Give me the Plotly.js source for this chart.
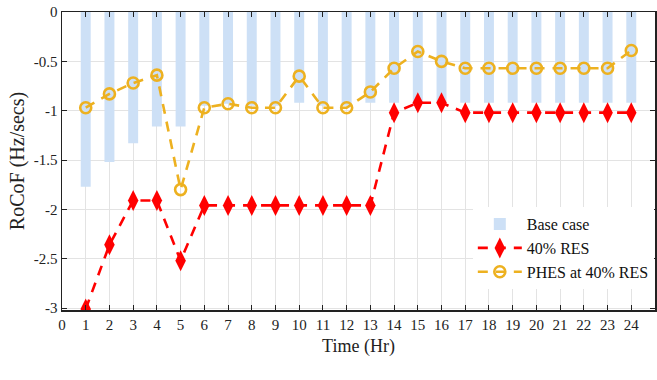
<!DOCTYPE html>
<html>
<head>
<meta charset="utf-8">
<script src="https://cdn.plot.ly/plotly-3.0.1.min.js"></script>
<style>html,body{margin:0;padding:0;background:#fff}#chart{width:657px;height:380px}</style>
</head>
<body>
<div id="chart"></div>
<script>
const hours = [1,2,3,4,5,6,7,8,9,10,11,12,13,14,15,16,17,18,19,20,21,22,23,24];
const baseCase = [-1.77,-1.52,-1.33,-1.16,-1.16,-0.95,-0.93,-0.95,-0.95,-0.92,-0.95,-0.95,-0.92,-0.92,-0.92,-0.92,-0.92,-0.92,-0.92,-0.92,-0.92,-0.92,-0.92,-0.92];
const res40 = [-3.01,-2.36,-1.91,-1.91,-2.52,-1.96,-1.96,-1.96,-1.96,-1.96,-1.96,-1.96,-1.96,-1.02,-0.92,-0.92,-1.02,-1.02,-1.02,-1.02,-1.02,-1.02,-1.02,-1.02];
const phes40 = [-0.97,-0.83,-0.72,-0.64,-1.80,-0.97,-0.93,-0.97,-0.97,-0.65,-0.97,-0.97,-0.81,-0.57,-0.40,-0.50,-0.57,-0.57,-0.57,-0.57,-0.57,-0.57,-0.57,-0.39];
const xTicks = [0,1,2,3,4,5,6,7,8,9,10,11,12,13,14,15,16,17,18,19,20,21,22,23,24];
const yTicks = [0,-0.5,-1,-1.5,-2,-2.5,-3];

const font = 'Liberation Serif, Times New Roman, serif';
const traces = [
  {type:'bar', name:'Base case', x:hours, y:baseCase, width:0.42,
   marker:{color:'#cde0f6', line:{width:0}}},
  {type:'scatter', mode:'lines+markers', name:'40% RES', x:hours, y:res40,
   line:{color:'#ff0000', width:2.6, dash:'10px,8px'},
   marker:{symbol:'diamond-tall', size:15, color:'#ff0000'}},
  {type:'scatter', mode:'lines+markers', name:'PHES at 40% RES', x:hours, y:phes40,
   line:{color:'#edb120', width:2.6, dash:'10px,8px'},
   marker:{symbol:'circle-open', size:11, color:'#edb120', line:{width:2.6, color:'#edb120'}}}
];
const layout = {
  width:657, height:380,
  margin:{l:62, r:2, t:12, b:70, autoexpand:false},
  paper_bgcolor:'#fff', plot_bgcolor:'#fff',
  font:{family:font, size:15, color:'#222'},
  showlegend:true,
  legend:{x:0.998, y:0.345, xanchor:'right', yanchor:'top', bgcolor:'#fff',
    font:{family:font, size:16, color:'#111'}, tracegroupgap:0, itemwidth:44},
  xaxis:{range:[0,25], tickmode:'array', tickvals:xTicks, ticktext:xTicks.map(String),
    showgrid:true, gridcolor:'#e3e3e3', gridwidth:1, zeroline:false,
    showline:true, linecolor:'#222', linewidth:1.5, mirror:'ticks',
    ticks:'inside', ticklen:5, tickcolor:'#222', automargin:false,
    title:{text:'Time (Hr)', font:{family:font, size:18, color:'#222'}, standoff:8},
    tickfont:{family:font, size:15}},
  yaxis:{range:[-3.02,0], tickmode:'array', tickvals:yTicks, ticktext:yTicks.map(String),
    showgrid:true, gridcolor:'#e3e3e3', gridwidth:1, zeroline:false,
    showline:true, linecolor:'#222', linewidth:1.5, mirror:'ticks',
    ticks:'inside', ticklen:5, tickcolor:'#222', automargin:false,
    title:{text:'RoCoF (Hz/secs)', font:{family:font, size:20, color:'#222'}, standoff:4},
    tickfont:{family:font, size:15}},
  bargap:0.5
};
Plotly.newPlot('chart', traces, layout, {displayModeBar:false, staticPlot:true});
</script>
</body>
</html>
